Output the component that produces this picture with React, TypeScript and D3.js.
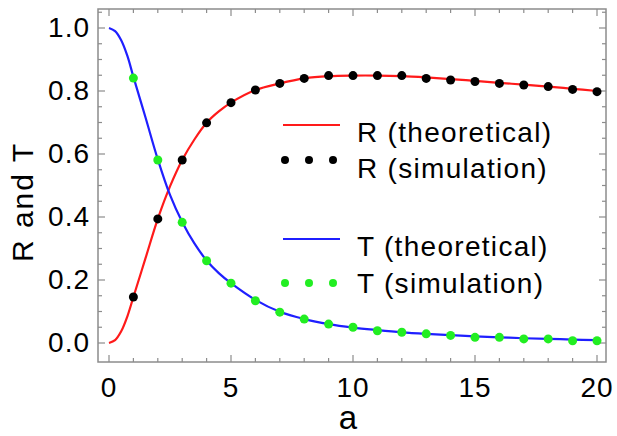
import React, { useEffect, useRef } from "react";
import * as d3 from "d3";

// simulation points (a = 1..20)
const simA = [1, 2, 3, 4, 5, 6, 7, 8, 9, 10, 11, 12, 13, 14, 15, 16, 17, 18, 19, 20];
const rSim = [0.146, 0.394, 0.581, 0.699, 0.763, 0.803, 0.824, 0.84, 0.849, 0.849, 0.849, 0.849, 0.84, 0.835, 0.83, 0.824, 0.819, 0.814, 0.805, 0.798];
const tSim = [0.841, 0.581, 0.383, 0.261, 0.19, 0.134, 0.098, 0.076, 0.06, 0.05, 0.039, 0.034, 0.029, 0.024, 0.018, 0.018, 0.013, 0.013, 0.007, 0.007];

// theoretical curves
const theoA = [0, 0.25, 0.5, 0.75, 1, 1.5, 2, 2.5, 3, 3.5, 4, 4.5, 5, 6, 7, 8, 9, 10, 11, 12, 13, 14, 15, 16, 17, 18, 19, 20];
const rTheo = [0, 0.009, 0.037, 0.084, 0.146, 0.27, 0.394, 0.497, 0.581, 0.646, 0.699, 0.735, 0.763, 0.803, 0.824, 0.84, 0.847, 0.849, 0.849, 0.847, 0.843, 0.838, 0.832, 0.826, 0.82, 0.814, 0.807, 0.8];
const tTheo = [1.0, 0.99, 0.961, 0.912, 0.845, 0.715, 0.583, 0.47, 0.384, 0.316, 0.262, 0.222, 0.19, 0.137, 0.099, 0.076, 0.06, 0.049, 0.041, 0.034, 0.029, 0.025, 0.021, 0.018, 0.015, 0.013, 0.011, 0.009];

const xTicks = [0, 5, 10, 15, 20];
const yTicks = [0, 0.2, 0.4, 0.6, 0.8, 1.0];
const legendLabels = ["R (theoretical)", "R (simulation)", "T (theoretical)", "T (simulation)"];

const width = 617,
  height = 436;
const frame = { left: 98, right: 606, top: 9, bottom: 362 };
const font = "'Liberation Sans', Arial, sans-serif";
const frameColor = "#8c8c8c";
const red = "#ff1a1a",
  blue = "#1f1fff",
  green = "#22ee22";

const x = d3.scaleLinear().domain([0, 20]).range([109, 597]);
const y = d3.scaleLinear().domain([0, 1]).range([343, 28]);

export default function App() {
  const ref = useRef<SVGSVGElement>(null);

  useEffect(() => {
    const svg = d3.select(ref.current);
    svg.selectAll("*").remove();

    svg.append("rect").attr("width", width).attr("height", height).attr("fill", "white");

    // frame
    svg
      .append("rect")
      .attr("x", frame.left)
      .attr("y", frame.top)
      .attr("width", frame.right - frame.left)
      .attr("height", frame.bottom - frame.top)
      .attr("fill", "none")
      .attr("stroke", frameColor)
      .attr("stroke-width", 1.5);

    // x ticks, every 1, major every 5, on bottom and top
    const xt = svg.append("g").attr("stroke", frameColor).attr("stroke-width", 1.2);
    d3.range(0, 21).forEach((v) => {
      const len = v % 5 === 0 ? 7 : 4;
      xt.append("line").attr("x1", x(v)).attr("x2", x(v)).attr("y1", frame.bottom).attr("y2", frame.bottom - len);
      xt.append("line").attr("x1", x(v)).attr("x2", x(v)).attr("y1", frame.top).attr("y2", frame.top + len);
    });

    // y ticks, every 0.05, major every 0.2, on left and right
    const yt = svg.append("g").attr("stroke", frameColor).attr("stroke-width", 1.2);
    d3.range(0, 22).forEach((i) => {
      const v = i * 0.05;
      const len = i % 4 === 0 ? 7 : 4;
      yt.append("line").attr("x1", frame.left).attr("x2", frame.left + len).attr("y1", y(v)).attr("y2", y(v));
      yt.append("line").attr("x1", frame.right).attr("x2", frame.right - len).attr("y1", y(v)).attr("y2", y(v));
    });

    // tick labels
    svg
      .append("g")
      .selectAll("text")
      .data(xTicks)
      .enter()
      .append("text")
      .attr("x", (d) => x(d))
      .attr("y", 397)
      .attr("text-anchor", "middle")
      .style("font-family", font)
      .style("font-size", "28px")
      .style("letter-spacing", "1px")
      .text((d) => d);

    svg
      .append("g")
      .selectAll("text")
      .data(yTicks)
      .enter()
      .append("text")
      .attr("x", 90)
      .attr("y", (d) => y(d) + 9)
      .attr("text-anchor", "end")
      .style("font-family", font)
      .style("font-size", "28px")
      .style("letter-spacing", "1px")
      .text((d) => d.toFixed(1));

    // axis titles
    svg
      .append("text")
      .attr("x", 348)
      .attr("y", 429)
      .attr("text-anchor", "middle")
      .style("font-family", font)
      .style("font-size", "33px")
      .text("a");

    svg
      .append("text")
      .attr("transform", "translate(33,202) rotate(-90)")
      .attr("text-anchor", "middle")
      .style("font-family", font)
      .style("font-size", "30px")
      .style("letter-spacing", "2px")
      .text("R and T");

    // theoretical curves
    const line = d3
      .line<number>()
      .x((d, i) => x(theoA[i]))
      .y((d) => y(d))
      .curve(d3.curveCatmullRom);

    svg.append("path").attr("d", line(rTheo)).attr("fill", "none").attr("stroke", red).attr("stroke-width", 2.2);
    svg.append("path").attr("d", line(tTheo)).attr("fill", "none").attr("stroke", blue).attr("stroke-width", 2.2);

    // simulation points
    svg
      .append("g")
      .selectAll("circle")
      .data(rSim)
      .enter()
      .append("circle")
      .attr("cx", (d, i) => x(simA[i]))
      .attr("cy", (d) => y(d))
      .attr("r", 4.5)
      .attr("fill", "black");

    svg
      .append("g")
      .selectAll("circle")
      .data(tSim)
      .enter()
      .append("circle")
      .attr("cx", (d, i) => x(simA[i]))
      .attr("cy", (d) => y(d))
      .attr("r", 4.5)
      .attr("fill", green);

    // legend
    const markY = [125, 160, 239, 283];
    const textY = [142, 178, 256, 293];
    const lg = svg.append("g");
    legendLabels.forEach((label, i) => {
      const color = [red, "black", blue, green][i];
      if (i % 2 === 0) {
        lg.append("line").attr("x1", 283).attr("x2", 340).attr("y1", markY[i]).attr("y2", markY[i]).attr("stroke", color).attr("stroke-width", 2.2);
      } else {
        [285, 309, 333].forEach((cx) => {
          lg.append("circle").attr("cx", cx).attr("cy", markY[i]).attr("r", 4).attr("fill", color);
        });
      }
      lg.append("text")
        .attr("x", 357)
        .attr("y", textY[i])
        .style("font-family", font)
        .style("font-size", "28px")
        .style("letter-spacing", "1.3px")
        .text(label);
    });
  }, []);

  return (
    <svg
      ref={ref}
      width={width}
      height={height}
      style={{ position: "absolute", left: 0, top: 0 }}
    ></svg>
  );
}
